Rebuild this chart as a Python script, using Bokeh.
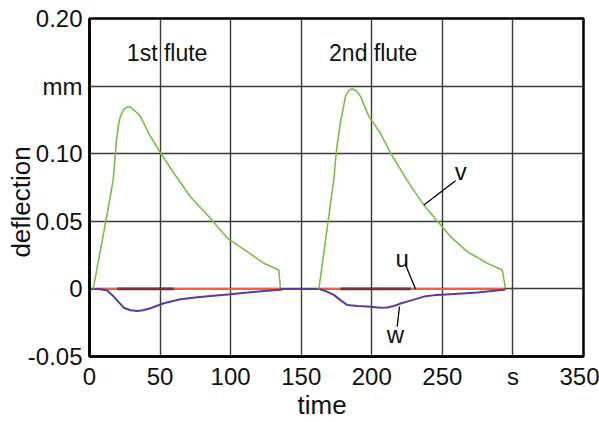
from bokeh.plotting import figure
from bokeh.models import Range1d, FixedTicker, Label
from bokeh.embed import file_html
from bokeh.resources import INLINE

# ---- data ----
x_ticks = [0, 50, 100, 150, 200, 250, 300, 350]
x_tick_labels = ["0", "50", "100", "150", "200", "250", "s", "350"]
y_ticks = [-0.05, 0.0, 0.05, 0.10, 0.15, 0.20]
y_tick_labels = ["-0.05", "0", "0.05", "0.10", "mm", "0.20"]

# v deflection, 1st and 2nd flute
v1_time = [2.6, 8, 13, 16.8, 18, 19.1, 20.5, 22, 24.3, 26.5, 28.6, 32, 36.1, 42,
           50.3, 59.7, 71.6, 84.5, 97.6, 111.7, 123.5, 134.1, 135.3]
v1 = [0, 0.030, 0.058, 0.081, 0.096, 0.110, 0.121, 0.128, 0.1326, 0.1345, 0.1346,
      0.132, 0.1276, 0.115, 0.1005, 0.0857, 0.068, 0.0536, 0.0376, 0.0276, 0.019,
      0.014, 0.0005]
v2_time = [162.5, 167, 171, 173.1, 175, 177.8, 181.4, 183.5, 186.1, 189, 192,
           197.9, 206.2, 213.3, 224.6, 236.9, 247.5, 255.8, 267.6, 281.8, 292.4,
           294.7]
v2 = [0, 0.034, 0.065, 0.081, 0.103, 0.123, 0.1424, 0.1465, 0.148, 0.1465, 0.1424,
      0.1276, 0.115, 0.1005, 0.081, 0.062, 0.0487, 0.0387, 0.0276, 0.019, 0.014,
      0.0005]

# w deflection
w1_time = [0, 2.6, 8, 12.5, 17.2, 21, 24.3, 29, 33.8, 38, 43.2, 52.6, 64.5, 76.3,
           88, 99.9, 112, 123.5, 135.3, 138, 162.5]
w1 = [0, 0, -0.0002, -0.0012, -0.0057, -0.0102, -0.0139, -0.0158, -0.0163,
      -0.0158, -0.0143, -0.0106, -0.0076, -0.0061, -0.005, -0.0039, -0.0027,
      -0.0015, -0.0007, 0, 0]
w2_time = [162.5, 167, 173.1, 178, 182.6, 190, 196.8, 206.2, 211, 215.6, 221,
           227.4, 236.9, 245, 255.8, 274.7, 293.5, 294.7]
w2 = [0, -0.0015, -0.0044, -0.0085, -0.0119, -0.0127, -0.0131, -0.0139, -0.0138,
      -0.0126, -0.0106, -0.0087, -0.0057, -0.0046, -0.0039, -0.0027, -0.0007, 0]

# u deflection (stays at zero)
u1_time = [0, 135.3]
u1 = [0, 0]
u2_time = [162.5, 294.7]
u2 = [0, 0]
u_dark_start = [19.6, 177.8]
u_dark_end = [59.7, 227.4]
u_dark_value = [0, 0]

FONT = "Liberation Sans"
TXT = "#111111"
PAD = "\u00a0" * 4

p = figure(width=599, height=422, output_backend="svg", toolbar_location=None,
           x_range=Range1d(0, 350), y_range=Range1d(-0.05, 0.20),
           min_border_left=89, min_border_right=16, min_border_top=18,
           min_border_bottom=66)
p.background_fill_color = "white"
p.border_fill_color = "white"
p.outline_line_color = "black"
p.outline_line_width = 2.5

p.xaxis.ticker = FixedTicker(ticks=x_ticks)
p.yaxis.ticker = FixedTicker(ticks=y_ticks)
p.xaxis.major_label_overrides = dict(zip(x_ticks, x_tick_labels))
p.yaxis.major_label_overrides = dict(zip(y_ticks, y_tick_labels))

for ax in (p.xaxis, p.yaxis):
    ax.axis_line_color = "black"
    ax.axis_line_width = 2.5
    ax.major_tick_in = 0
    ax.major_tick_out = 0
    ax.minor_tick_in = 0
    ax.minor_tick_out = 0
    ax.major_label_text_font = FONT
    ax.major_label_text_font_size = "24px"
    ax.major_label_text_color = TXT
    ax.axis_label_text_font = FONT
    ax.axis_label_text_font_size = "26px"
    ax.axis_label_text_font_style = "normal"
    ax.axis_label_text_color = TXT

# trailing no-break spaces shift the centred titles as in the reference
p.xaxis.axis_label = "time" + PAD
p.yaxis.axis_label = "deflection" + PAD
p.xaxis.major_label_standoff = 6
p.yaxis.major_label_standoff = 7
p.xaxis.axis_label_standoff = -3
p.yaxis.axis_label_standoff = -11

for g in (p.xgrid, p.ygrid):
    g.grid_line_color = "#3a3a3a"
    g.grid_line_width = 1.4
    g.grid_line_alpha = 1.0

red = "#f4603c"
dark = "#7b2d3a"
green = "#77c043"
purple = "#5a3a9e"

p.line(u1_time, u1, line_color=red, line_width=2)
p.line(u2_time, u2, line_color=red, line_width=2)
p.segment(x0=u_dark_start, y0=u_dark_value, x1=u_dark_end, y1=u_dark_value,
          line_color=dark, line_width=2.8)
p.line(w1_time, w1, line_color=purple, line_width=2)
p.line(w2_time, w2, line_color=purple, line_width=2)
p.line(v1_time, v1, line_color=green, line_width=1.6)
p.line(v2_time, v2, line_color=green, line_width=1.6)

# leader lines for the curve labels
p.segment(x0=[236.9, 223.9, 219.6], y0=[0.062, 0.0178, -0.0131],
          x1=[259.3, 231.0, 218.0], y1=[0.080, 0.0, -0.028],
          line_color="black", line_width=1.3)

for txt, x, y in [("v", 263, 0.0867), ("u", 221.5, 0.0227), ("w", 216.8, -0.034)]:
    p.add_layout(Label(x=x, y=y, text=txt, text_font=FONT, text_font_size="24px",
                       text_align="center", text_baseline="middle",
                       text_color=TXT))

for txt, x in [("1st flute", 55), ("2nd flute", 201)]:
    p.add_layout(Label(x=x, y=0.1748, text=txt, text_font=FONT,
                       text_font_size="23px", text_align="center",
                       text_baseline="middle", text_color=TXT))

open("out.html", "w").write(file_html(p, INLINE))
